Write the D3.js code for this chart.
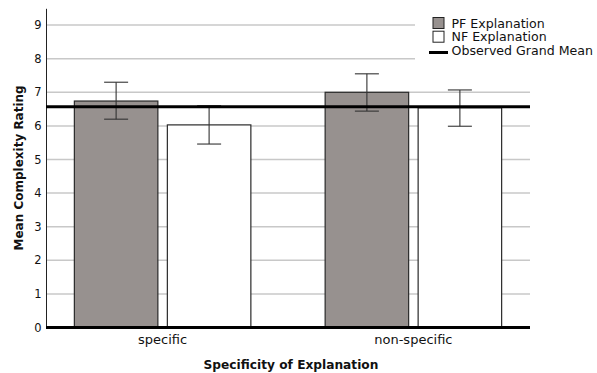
<!DOCTYPE html>
<html><head><meta charset="utf-8">
<script src="https://cdn.jsdelivr.net/npm/d3@7"></script>
<style>body{margin:0;background:#fff}</style>
</head><body>
<svg id="c" width="597" height="373"></svg>
<script>
const categories = ["specific", "non-specific"];
const seriesNames = ["PF Explanation", "NF Explanation"];
const means = [[6.74, 6.03], [7.00, 6.54]];
const ciLow = [[6.20, 5.46], [6.44, 5.99]];
const ciHigh = [[7.30, 6.60], [7.55, 7.07]];
const grandMean = 6.57;
const yTicks = [0,1,2,3,4,5,6,7,8,9];
const legendLabels = ["PF Explanation", "NF Explanation", "Observed Grand Mean"];

(function(){
const svg = d3.select("#c");
const font = "DejaVu Sans, sans-serif";
const pL = 46, pR = 530, pT = 8.3, pB = 327.5;
const y = d3.scaleLinear().domain([0, 9.5]).range([pB, pT]);
const x = d3.scalePoint().domain(categories).range([pL, pR]).padding(0.465);
const sub = d3.scaleBand().domain([0,1]).range([-88.25, 88.25]).paddingInner(0.102).paddingOuter(0);
const fills = ["#97918f", "#ffffff"];

// gridlines
svg.append("g").selectAll("line").data(yTicks.filter(d=>d>0)).join("line")
  .attr("x1", pL).attr("x2", pR).attr("y1", d=>y(d)).attr("y2", d=>y(d))
  .attr("stroke", "#c8c8c8").attr("stroke-width", 1.5);

// y axis
const ya = svg.append("g").attr("transform", `translate(${pL},0)`)
  .call(d3.axisLeft(y).tickValues(yTicks).tickSize(0).tickPadding(4.5));
ya.select(".domain").attr("stroke", "#222").attr("stroke-width", 1);
ya.selectAll("text").attr("font-family", font).attr("font-size", 11.5).attr("fill", "#111");

// bars
categories.forEach((c, i) => {
  seriesNames.forEach((s, j) => {
    const bx = x(c) + sub(j);
    svg.append("rect").attr("x", bx).attr("width", sub.bandwidth())
      .attr("y", y(means[i][j])).attr("height", y(0) - y(means[i][j]))
      .attr("fill", fills[j]).attr("stroke", "#2a2a2a").attr("stroke-width", 1.2);
  });
});

// error bars
categories.forEach((c, i) => {
  seriesNames.forEach((s, j) => {
    const cx = x(c) + sub(j) + sub.bandwidth()/2;
    const g = svg.append("g").attr("stroke", "#333").attr("stroke-width", 1.1);
    g.append("line").attr("x1", cx).attr("x2", cx).attr("y1", y(ciLow[i][j])).attr("y2", y(ciHigh[i][j]));
    [ciLow[i][j], ciHigh[i][j]].forEach(v => g.append("line").attr("x1", cx-12).attr("x2", cx+12).attr("y1", y(v)).attr("y2", y(v)));
  });
});

// grand mean line
svg.append("line").attr("x1", pL).attr("x2", pR).attr("y1", y(grandMean)).attr("y2", y(grandMean))
  .attr("stroke", "#000").attr("stroke-width", 3);
// baseline
svg.append("line").attr("x1", pL).attr("x2", pR).attr("y1", y(0)).attr("y2", y(0))
  .attr("stroke", "#000").attr("stroke-width", 3);

// x labels
svg.append("g").selectAll("text").data(categories).join("text")
  .attr("x", d=>x(d)).attr("y", 344).attr("text-anchor", "middle")
  .attr("font-family", font).attr("font-size", 13).attr("fill", "#111").text(d=>d);

svg.append("text").attr("x", 291).attr("y", 369).attr("text-anchor", "middle")
  .attr("font-family", font).attr("font-size", 12.2).attr("font-weight", "bold").attr("fill", "#111")
  .text("Specificity of Explanation");
svg.append("text").attr("transform", `translate(22.5,${(pT+pB)/2}) rotate(-90)`).attr("text-anchor", "middle")
  .attr("font-family", font).attr("font-size", 12).attr("font-weight", "bold").attr("fill", "#111")
  .text("Mean Complexity Rating");

// legend
const lg = svg.append("g");
lg.append("rect").attr("x", 415).attr("y", 10).attr("width", 182).attr("height", 52).attr("fill", "#fff");
[0,1].forEach(j => {
  lg.append("rect").attr("x", 433).attr("y", 17.5 + j*13.7).attr("width", 11).attr("height", 11)
    .attr("fill", fills[j]).attr("stroke", "#222").attr("stroke-width", 1);
});
lg.append("line").attr("x1", 429).attr("x2", 448).attr("y1", 52.5).attr("y2", 52.5).attr("stroke", "#000").attr("stroke-width", 3);
lg.selectAll("text.l").data(legendLabels).join("text").attr("class","l")
  .attr("x", 451.5).attr("y", (d,i)=>27.5 + i*13.7)
  .attr("font-family", font).attr("font-size", 12.6).attr("fill", "#111").text(d=>d);
})();
</script>
</body></html>
